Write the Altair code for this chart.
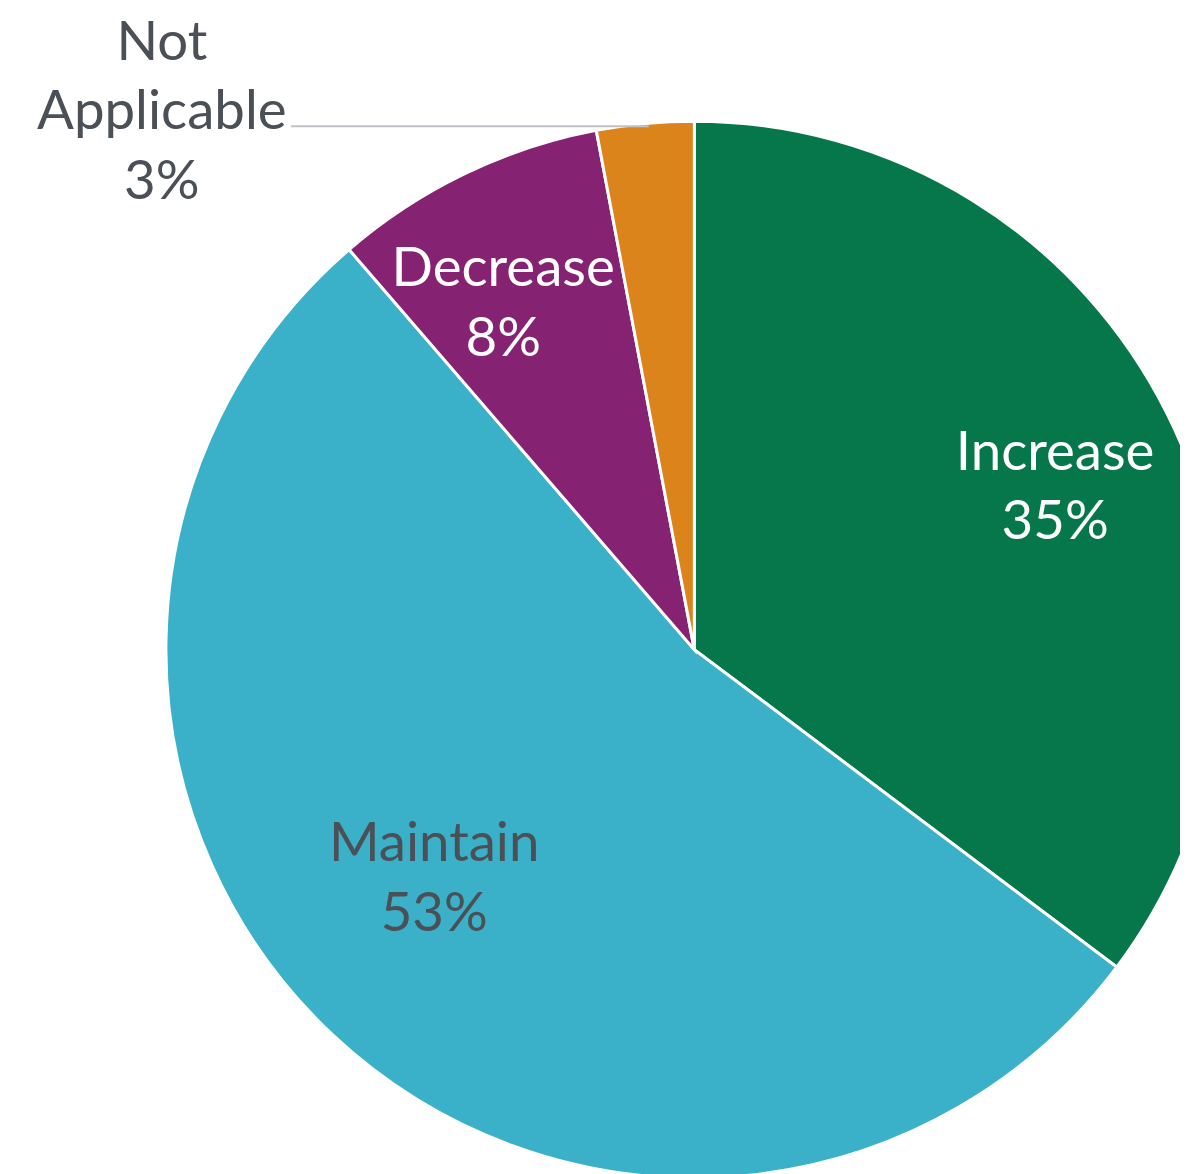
import altair as alt
import pandas as pd

categories = ["Increase", "Maintain", "Decrease", "Not Applicable"]
values = [35.25, 53.4, 8.36, 2.97]
labels = ["Increase\n35%", "Maintain\n53%", "Decrease\n8%", "Not\nApplicable\n3%"]
colors = ["#05774A", "#3BB0C9", "#862272", "#DC841C"]
order = [0, 1, 2, 3]

df = pd.DataFrame({"category": categories, "value": values, "label": labels, "idx": order})
total = float(sum(values))

W, H = 1180, 1166
CX, CY = 691, 642
R = 532
FONT = "Lato"
GRAY = "#4B5057"

tscale = alt.Scale(domain=[0, total], range=[0, 6.283185307179586])

pie = alt.Chart(df).mark_arc(radius=R, stroke="white", strokeWidth=3).encode(
    theta=alt.Theta("value:Q", stack=True, scale=tscale),
    order=alt.Order("idx:Q"),
    x=alt.value(CX),
    y=alt.value(CY),
    color=alt.Color("category:N", scale=alt.Scale(domain=categories, range=colors), legend=None),
)

stacked = alt.Chart(df).transform_window(
    cum="sum(value)", sort=[alt.SortField("idx")], frame=[None, 0]
).transform_calculate(mid="datum.cum - datum.value / 2")


def label_layer(cat, radius, dx, dy, color):
    return stacked.transform_filter(alt.datum.category == cat).mark_text(
        radius=radius, dx=dx, dy=dy, font=FONT, fontSize=55, lineHeight=70,
        lineBreak="\n", align="center", baseline="middle", color=color,
    ).encode(
        theta=alt.Theta("mid:Q", scale=tscale, stack=None),
        x=alt.value(CX),
        y=alt.value(CY),
        text="label:N",
    )


texts = [
    label_layer("Increase", 396, 9, -21, "white"),
    label_layer("Maintain", 344, -27, -55, GRAY),
    label_layer("Decrease", 397, -20, -25, "white"),
    label_layer("Not Applicable", 527, -487, -86, GRAY),
]

leader = alt.Chart(df.head(1)).mark_rule(color="#BFC3C7", strokeWidth=2).encode(
    x=alt.value(CX - 406), x2=alt.value(CX - 46), y=alt.value(CY - 527)
)

chart = alt.layer(pie, leader, *texts).properties(
    width=W, height=H, autosize="none", padding=0
).configure_view(stroke=None)

chart.save("out.html", embed_options={"renderer": "svg", "actions": False})
